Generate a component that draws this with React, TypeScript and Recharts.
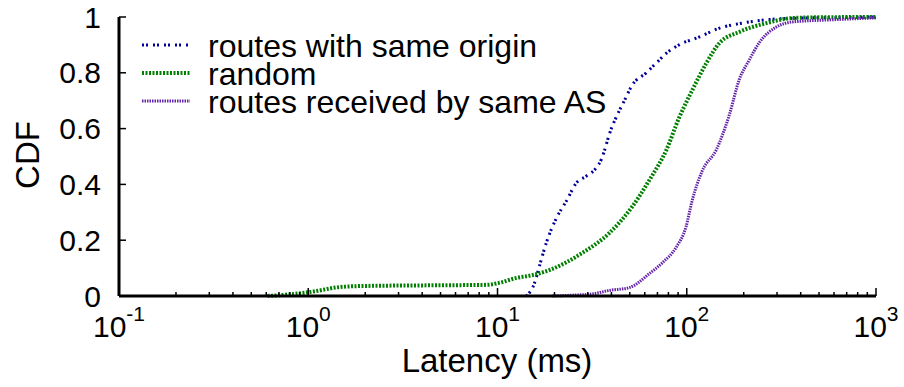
import React from 'react';
import { LineChart, Line, XAxis, YAxis, Legend } from 'recharts';

const FONT = '"Liberation Sans", Arial, Helvetica, sans-serif';

// latency (ms) and CDF
const sameOriginMs = [14.2, 15.7, 16.7, 18.1, 20.5, 23.1, 26.1, 29.5, 33.3, 35.4, 36.7, 39, 43, 46.8, 51.5, 61, 69, 78, 91, 116, 149, 196, 263, 393, 600, 1000];
const sameOriginCdf = [0, 0.047, 0.11, 0.19, 0.28, 0.34, 0.405, 0.43, 0.46, 0.49, 0.52, 0.58, 0.65, 0.7, 0.756, 0.8, 0.835, 0.87, 0.9, 0.928, 0.96, 0.978, 0.99, 0.996, 0.998, 1];

const randomMs = [0.61, 0.8, 1.02, 1.47, 2, 4, 8.75, 10.2, 12.6, 15.3, 18.8, 28, 39, 51.5, 63.4, 78, 91, 107, 127, 149, 189, 263, 360, 500, 1000];
const randomCdf = [0, 0.006, 0.014, 0.032, 0.036, 0.038, 0.04, 0.047, 0.065, 0.075, 0.093, 0.154, 0.226, 0.32, 0.415, 0.523, 0.638, 0.738, 0.835, 0.907, 0.946, 0.978, 0.996, 0.999, 1];

const sameAsMs = [19.5, 25, 32, 39, 49.7, 63.4, 74, 88, 99, 107, 121, 143, 168, 189, 214, 241, 272, 297, 360, 586, 1000];
const sameAsCdf = [0, 0.003, 0.008, 0.02, 0.03, 0.08, 0.118, 0.175, 0.247, 0.344, 0.45, 0.523, 0.65, 0.774, 0.846, 0.907, 0.946, 0.964, 0.982, 0.99, 0.997];

const majorTicks = [0.1, 1, 10, 100, 1000];
const minorSteps = [2, 3, 4, 5, 6, 7, 8, 9];
const yTicks = [0, 0.2, 0.4, 0.6, 0.8, 1];

const toPoints = (xs: number[], ys: number[]) => xs.map((x, i) => ({ x, y: ys[i] }));

const series = [
  { name: 'routes with same origin', data: toPoints(sameOriginMs, sameOriginCdf), color: '#000099', width: 3, dash: '2 2 2 5' },
  { name: 'random', data: toPoints(randomMs, randomCdf), color: '#008000', width: 4, dash: '2 1.5' },
  { name: 'routes received by same AS', data: toPoints(sameAsMs, sameAsCdf), color: '#6424a8', width: 3, dash: '1.5 1' },
];

const xTicks = [
  ...majorTicks,
  ...majorTicks.slice(0, -1).flatMap((m) => minorSteps.map((s) => +(m * s).toPrecision(3))),
].sort((a, b) => a - b);

const XTick = (props: any) => {
  const { x, y, payload } = props;
  const lg = Math.log10(payload.value);
  const exp = Math.round(lg);
  const major = Math.abs(lg - exp) < 1e-6;
  return (
    <g>
      <line x1={x} x2={x} y1={y} y2={y - (major ? 8 : 4)} stroke="#000" strokeWidth={1.5} />
      {major && (
        <text x={x} y={y + 41} textAnchor="middle" fontSize={30} fontFamily={FONT} fill="#000">
          10
          <tspan dy={-16} fontSize={21}>{exp}</tspan>
        </text>
      )}
    </g>
  );
};

const YTick = (props: any) => {
  const { x, y, payload } = props;
  const v = payload.value;
  const label = v === 0 ? '0' : v === 1 ? '1' : v.toFixed(1);
  return (
    <g>
      <line x1={x} x2={x + 7} y1={y} y2={y} stroke="#000" strokeWidth={1.5} />
      <text x={x - 18} y={y} textAnchor="end" dominantBaseline="central" fontSize={30} fontFamily={FONT} fill="#000">
        {label}
      </text>
    </g>
  );
};

const KeyBox = () => (
  <svg width={520} height={100}>
    {series.map((s, i) => (
      <g key={s.name}>
        <line x1={12} x2={60} y1={17 + i * 28} y2={17 + i * 28} stroke={s.color} strokeWidth={s.width} strokeDasharray={s.dash} />
        <text x={78} y={29 + i * 28} fontSize={32} fontFamily={FONT} fill="#000">
          {s.name}
        </text>
      </g>
    ))}
  </svg>
);

export default function App() {
  return (
    <div style={{ position: 'absolute', left: 0, top: 0 }}>
      <LineChart width={904} height={387} margin={{ top: 17, right: 28, left: 0, bottom: 0 }}>
        <XAxis
          type="number"
          dataKey="x"
          scale="log"
          domain={[0.1, 1000]}
          allowDataOverflow
          ticks={xTicks}
          interval={0}
          tick={<XTick />}
          tickLine={false}
          tickSize={0}
          tickMargin={0}
          height={91}
          axisLine={{ stroke: '#000', strokeWidth: 3 }}
          label={() => (
            <text x={497} y={372} textAnchor="middle" fontSize={33} fontFamily={FONT} fill="#000">
              Latency (ms)
            </text>
          )}
        />
        <YAxis
          type="number"
          domain={[0, 1]}
          ticks={yTicks}
          interval={0}
          tick={<YTick />}
          tickLine={false}
          tickSize={0}
          tickMargin={0}
          width={119}
          axisLine={{ stroke: '#000', strokeWidth: 3 }}
          label={() => (
            <text
              x={27}
              y={155}
              transform="rotate(-90 27 155)"
              textAnchor="middle"
              dominantBaseline="central"
              fontSize={33}
              fontFamily={FONT}
              fill="#000"
            >
              CDF
            </text>
          )}
        />
        <Legend
          layout="vertical"
          align="center"
          verticalAlign="middle"
          content={<KeyBox />}
          wrapperStyle={{ left: 130, top: 28, width: 520, height: 100 }}
        />
        {series.map((s) => (
          <Line
            key={s.name}
            data={s.data}
            dataKey="y"
            name={s.name}
            type="monotoneX"
            stroke={s.color}
            strokeWidth={s.width}
            strokeDasharray={s.dash}
            dot={false}
            activeDot={false}
            isAnimationActive={false}
          />
        ))}
      </LineChart>
    </div>
  );
}
